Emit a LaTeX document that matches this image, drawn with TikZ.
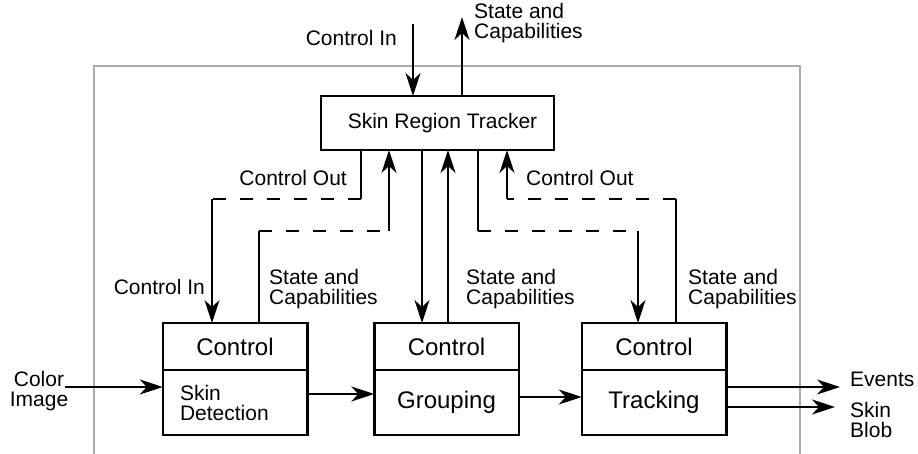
\documentclass[tikz,border=0pt]{standalone}
\usepackage{fontspec}
\setmainfont{Liberation Sans}
\usetikzlibrary{shapes, arrows, arrows.meta, positioning}
\tikzstyle{modbox} = [draw, line width=2.5pt, rectangle, outer sep=0pt, inner sep=0pt, minimum width=144.5pt]
\tikzstyle{modhead} = [modbox, minimum height=47pt, font=\fontsize{24}{24}\selectfont]
\tikzstyle{modbody} = [modbox, minimum height=65pt, font=\fontsize{24}{24}\selectfont]
\tikzstyle{lbl} = [inner sep=0pt, align=left, font=\fontsize{21}{20}\selectfont]
\tikzstyle{wire} = [line width=2.2pt]
\tikzstyle{dashwire} = [line width=2.2pt, dash pattern=on 13pt off 14pt]
\tikzstyle{flow} = [line width=2.2pt, -{Stealth[length=23pt, width=15pt, inset=7pt]}]

\begin{document}
\begin{tikzpicture}[x=1pt, y=-1pt]
	\useasboundingbox (0,0) rectangle (918,454);
	% frame
	\draw[gray!65, line width=1.5pt] (94,454) -- (94,66) -- (800,66) -- (800,454);
	% modules
	\node[modbox, minimum width=233pt, minimum height=54pt, font=\fontsize{21}{21}\selectfont] (tracker) at (437.5,123) {\hspace{10pt}Skin Region Tracker};
	\node[modhead] (detctrl) at (235,346.5) {Control};
	\node[modbody, below=0pt of detctrl, text width=110pt, align=left, font=\fontsize{21}{20}\selectfont] (det) {Skin\\Detection};
	\node[modhead, right=67pt of detctrl] (grpctrl) {Control};
	\node[modbody, below=0pt of grpctrl] (grp) {Grouping};
	\node[modhead, right=63pt of grpctrl] (trkctrl) {Control};
	\node[modbody, below=0pt of trkctrl] (trk) {Tracking};
	% labels
	\node[lbl, anchor=east] (ctlintop) at (397,38) {Control In};
	\node[lbl, anchor=west] (statetop) at (474,23) {State and\\Capabilities};
	\node[lbl, anchor=east] (ctloutl) at (347,178) {Control Out};
	\node[lbl, anchor=west] (ctloutr) at (526,178) {Control Out};
	\node[lbl, anchor=east] (ctlinl) at (205,287) {Control In};
	\node[lbl, anchor=west] (statedet) at (269,289) {State and\\Capabilities};
	\node[lbl, anchor=west] (stategrp) at (466,289) {State and\\Capabilities};
	\node[lbl, anchor=west] (statetrk) at (688,289) {State and\\Capabilities};
	\node[lbl, align=center] (colorimg) at (39,391) {Color\\Image};
	\node[lbl, anchor=west] (events) at (850,379) {Events};
	\node[lbl, anchor=west] (skinblob) at (850,420) {Skin\\Blob};
	% bends and free ends
	\coordinate (ctlinsrc) at (413,24);
	\coordinate (statedst) at (462,17);
	\coordinate (a1) at (361,199);
	\coordinate (a2) at (212,199);
	\coordinate (b1) at (259,231);
	\coordinate (b2) at (389,231);
	\coordinate (c1) at (422,0);
	\coordinate (c2) at (448,0);
	\coordinate (d1) at (478,231);
	\coordinate (d2) at (638,231);
	\coordinate (e1) at (676,199);
	\coordinate (e2) at (507,199);
	\coordinate (colorsrc) at (65,387);
	\coordinate (evdst) at (840,387);
	\coordinate (blobdst) at (835,407);
	% tracker in and out
	\draw[flow] (ctlinsrc) -- (ctlinsrc |- tracker.north);
	\draw[flow] (statedst |- tracker.north) -- (statedst);
	% skin detection
	\draw[wire] (tracker.south -| a1) -- (a1);
	\draw[dashwire] (a1) -- (a2);
	\draw[flow] (a2) -- (a2 |- detctrl.north);
	\draw[wire] (b1 |- detctrl.north) -- (b1);
	\draw[dashwire] (b1) -- (b2);
	\draw[flow] (b2) -- (b2 |- tracker.south);
	% grouping
	\draw[flow] (tracker.south -| c1) -- (c1 |- grpctrl.north);
	\draw[flow] (grpctrl.north -| c2) -- (c2 |- tracker.south);
	% tracking
	\draw[wire] (tracker.south -| d1) -- (d1);
	\draw[dashwire] (d1) -- (d2);
	\draw[flow] (d2) -- (d2 |- trkctrl.north);
	\draw[wire] (e1 |- trkctrl.north) -- (e1);
	\draw[dashwire] (e1) -- (e2);
	\draw[flow] (e2) -- (e2 |- tracker.south);
	% data flow
	\draw[flow] (colorsrc) -- (colorsrc -| det.west);
	\draw[flow] ([yshift=8.5pt]det.east) -- ([yshift=8.5pt]grp.west);
	\draw[flow] ([yshift=5.5pt]grp.east) -- ([yshift=5.5pt]trk.west);
	\draw[flow] (trk.east |- evdst) -- (evdst);
	\draw[flow] (trk.east |- blobdst) -- (blobdst);
\end{tikzpicture}
\end{document}
